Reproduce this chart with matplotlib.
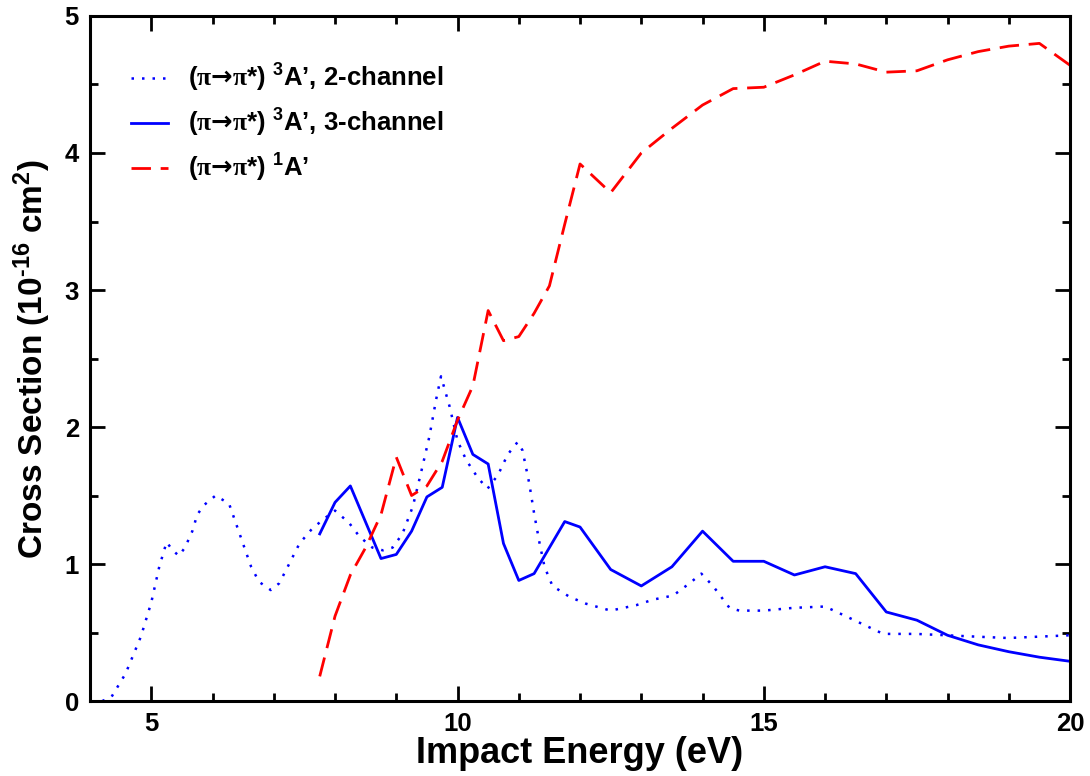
import matplotlib
matplotlib.use("Agg")
import matplotlib.pyplot as plt
from matplotlib.ticker import MultipleLocator

plt.rcParams['font.family'] = ['Liberation Sans', 'DejaVu Sans']
plt.rcParams['font.weight'] = 'bold'
plt.rcParams['mathtext.fontset'] = 'custom'
plt.rcParams['mathtext.rm'] = 'Liberation Sans:bold'
plt.rcParams['mathtext.it'] = 'Liberation Sans:bold'
plt.rcParams['mathtext.bf'] = 'Liberation Sans:bold'
plt.rcParams['mathtext.sf'] = 'DejaVu Sans'
plt.rcParams['mathtext.cal'] = 'Liberation Serif'
plt.rcParams['mathtext.default'] = 'rm'

# 3A', 2-channel (dotted)
x_2ch = [4.2, 4.35, 4.58, 4.83, 5.0, 5.13, 5.25, 5.35, 5.45, 5.55, 5.67, 5.75, 5.86,
         6.05, 6.27, 6.38, 6.52, 6.63, 6.76, 6.95, 7.09, 7.25, 7.42, 7.63, 7.85, 8.0,
         8.23, 8.4, 8.61, 8.78, 8.94, 9.1, 9.27, 9.4, 9.54, 9.65, 9.73, 9.87, 10.0,
         10.14, 10.33, 10.49, 10.66, 10.82, 10.98, 11.06, 11.17, 11.25, 11.34, 11.42,
         11.55, 11.83, 12.1, 12.5, 12.92, 13.19, 13.52, 13.79, 13.98, 14.17, 14.44,
         14.6, 15.0, 15.48, 16.0, 16.43, 16.95, 17.49, 17.98, 18.47, 18.99, 20.0]
y_2ch = [0.0, 0.03, 0.2, 0.47, 0.72, 0.98, 1.16, 1.10, 1.06, 1.12, 1.24, 1.36, 1.43,
         1.50, 1.44, 1.30, 1.12, 0.98, 0.87, 0.81, 0.86, 1.0, 1.15, 1.26, 1.34, 1.39,
         1.30, 1.20, 1.12, 1.10, 1.12, 1.22, 1.42, 1.66, 1.93, 2.20, 2.37, 2.15, 1.90,
         1.76, 1.63, 1.55, 1.65, 1.80, 1.89, 1.83, 1.59, 1.37, 1.15, 0.98,
         0.84, 0.76, 0.71, 0.66, 0.70, 0.74, 0.77, 0.86, 0.93, 0.84, 0.68,
         0.66, 0.66, 0.68, 0.69, 0.60, 0.49, 0.49, 0.48, 0.47, 0.46, 0.48]

# 3A', 3-channel (solid)
x_3ch = [7.75, 8.0, 8.25, 8.75, 9.0, 9.25, 9.5, 9.75, 10.0, 10.25, 10.5, 10.75, 11.0,
         11.25, 11.75, 12.0, 12.5, 13.0, 13.5, 14.0, 14.5, 15.0, 15.5, 16.0, 16.5,
         17.0, 17.5, 18.0, 18.5, 19.0, 19.5, 20.0]
y_3ch = [1.22, 1.45, 1.57, 1.04, 1.07, 1.24, 1.49, 1.56, 2.07, 1.80, 1.73, 1.15, 0.88,
         0.93, 1.31, 1.27, 0.96, 0.84, 0.98, 1.24, 1.02, 1.02, 0.92, 0.98, 0.93,
         0.65, 0.59, 0.48, 0.41, 0.36, 0.32, 0.29]

# 1A' (dashed)
x_1a = [7.75, 8.0, 8.25, 8.5, 8.75, 9.0, 9.25, 9.5, 9.75, 10.0, 10.25, 10.5, 10.75,
        11.0, 11.25, 11.5, 11.75, 12.0, 12.5, 13.0, 13.5, 14.0, 14.5, 15.0, 15.5,
        16.0, 16.5, 17.0, 17.5, 18.0, 18.5, 19.0, 19.5, 20.0]
y_1a = [0.18, 0.62, 0.92, 1.12, 1.36, 1.78, 1.50, 1.57, 1.75, 2.05, 2.30, 2.85, 2.63,
        2.66, 2.83, 3.03, 3.48, 3.92, 3.71, 4.0, 4.18, 4.35, 4.47, 4.48, 4.57,
        4.67, 4.65, 4.59, 4.60, 4.68, 4.74, 4.78, 4.80, 4.64]

trans = "($\\mathcal{\u03c0}\\mathsf{\u2192}\\mathcal{\u03c0}$*)"
labels = [trans + " $^{3}$A\u2019, 2-channel",
          trans + " $^{3}$A\u2019, 3-channel",
          trans + " $^{1}$A\u2019"]

fig = plt.figure(figsize=(10.9, 7.76), dpi=100)
ax = fig.add_axes([0.0826, 0.0966, 0.8991, 0.8828])

ax.plot(x_2ch, y_2ch, color='#0000ff', lw=1.8, linestyle=(0, (1, 3.2)),
        label=labels[0])
ax.plot(x_3ch, y_3ch, color='#0000ff', lw=2.0, linestyle='-', label=labels[1])
ax.plot(x_1a, y_1a, color='#ff0000', lw=2.0, linestyle=(0, (7, 3.5)), label=labels[2])

ax.set_xlim(4, 20)
ax.set_ylim(0, 5)
ax.xaxis.set_major_locator(MultipleLocator(5))
ax.xaxis.set_minor_locator(MultipleLocator(1))
ax.yaxis.set_major_locator(MultipleLocator(1))
ax.yaxis.set_minor_locator(MultipleLocator(0.5))
ax.tick_params(which='both', direction='in', top=True, right=True, width=2,
               labelsize=18.5, pad=8)
ax.tick_params(which='major', length=11)
ax.tick_params(which='minor', length=6)
for lab in ax.get_xticklabels() + ax.get_yticklabels():
    lab.set_fontweight('bold')
for sp in ax.spines.values():
    sp.set_linewidth(2.2)

ax.set_xlabel("Impact Energy (eV)", fontsize=26, fontweight='bold', labelpad=0)
ax.set_ylabel("Cross Section (10$^{\u201016}$ cm$^{2}$)", fontsize=24,
              fontweight='bold', labelpad=8)

leg = ax.legend(loc='upper left', bbox_to_anchor=(0.0418, 0.933), frameon=False,
                fontsize=18.5, handlelength=1.45, handletextpad=0.78,
                labelspacing=0.50, borderpad=0, borderaxespad=0)
for t in leg.get_texts():
    t.set_fontweight('bold')

fig.savefig("out.png", dpi=100)
